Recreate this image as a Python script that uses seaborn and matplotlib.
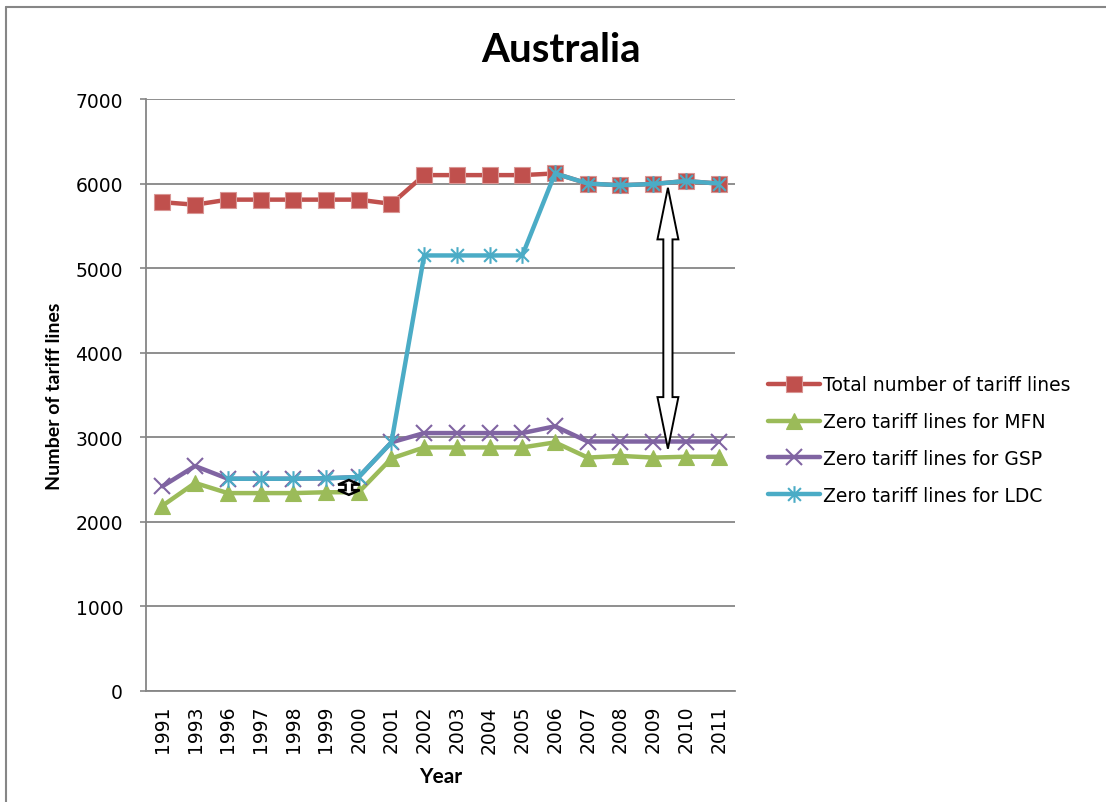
import numpy as np
import pandas as pd
import matplotlib
matplotlib.use("Agg")
import matplotlib.pyplot as plt
import seaborn as sns
from matplotlib.path import Path
from matplotlib.patches import Polygon
from matplotlib.lines import Line2D

years = ["1991", "1993", "1996", "1997", "1998", "1999", "2000", "2001", "2002",
         "2003", "2004", "2005", "2006", "2007", "2008", "2009", "2010", "2011"]
total = [5780, 5750, 5810, 5810, 5810, 5810, 5810, 5760, 6100,
         6100, 6100, 6100, 6120, 6000, 5980, 5995, 6030, 6000]
mfn = [2190, 2460, 2340, 2340, 2340, 2350, 2350, 2750, 2880,
       2880, 2880, 2880, 2940, 2760, 2780, 2760, 2770, 2770]
gsp = [2420, 2660, 2510, 2510, 2510, 2515, 2530, 2940, 3050,
       3050, 3050, 3050, 3130, 2950, 2950, 2950, 2950, 2950]
ldc = [np.nan, np.nan, 2510, 2510, 2510, 2515, 2530, 2940, 5150,
       5150, 5150, 5150, 6120, 6000, 5980, 5995, 6030, 6000]

labels = ["Total number of tariff lines", "Zero tariff lines for MFN",
          "Zero tariff lines for GSP", "Zero tariff lines for LDC"]
colors = ["#C0504D", "#9BBB59", "#8064A2", "#4BACC6"]

sns.set_style("white")
plt.rcParams["font.family"] = ["DejaVu Sans"]
plt.rcParams["text.color"] = "black"
plt.rcParams["axes.labelcolor"] = "black"
plt.rcParams["xtick.labelcolor"] = "black"
plt.rcParams["ytick.labelcolor"] = "black"

fig = plt.figure(figsize=(11.06, 8.03), dpi=100)
ax = fig.add_axes([146 / 1106, 1 - 692 / 803, (735 - 146) / 1106, (692 - 100) / 803])

pos = np.arange(len(years))

# asterisk marker (x plus vertical bar)
ast = Path([(-1, -1), (1, 1), (-1, 1), (1, -1), (0, -1.3), (0, 1.3)],
           [Path.MOVETO, Path.LINETO, Path.MOVETO, Path.LINETO, Path.MOVETO, Path.LINETO])

series = [total, mfn, gsp, ldc]
marker_kw = [
    dict(marker="s", markersize=11, markerfacecolor=colors[0], markeredgecolor="#D99694", markeredgewidth=0.8),
    dict(marker="^", markersize=12, markerfacecolor=colors[1], markeredgecolor=colors[1], markeredgewidth=0.8),
    dict(marker="x", markersize=11, markeredgecolor=colors[2], markeredgewidth=1.5),
    dict(marker=ast, markersize=12, markeredgecolor=colors[3], markeredgewidth=1.5),
]
for vals, lab, col, mk in zip(series, labels, colors, marker_kw):
    df = pd.DataFrame({"x": pos, "y": vals}).dropna()
    sns.lineplot(data=df, x="x", y="y", ax=ax, color=col, linewidth=3.2,
                 label=lab, **mk)


def double_arrow(ax, x, y0, y1, head_w, shaft_w, head_len, lw=1.4):
    pts = [(x, y1), (x + head_w, y1 - head_len), (x + shaft_w, y1 - head_len),
           (x + shaft_w, y0 + head_len), (x + head_w, y0 + head_len), (x, y0),
           (x - head_w, y0 + head_len), (x - shaft_w, y0 + head_len),
           (x - shaft_w, y1 - head_len), (x - head_w, y1 - head_len)]
    ax.add_patch(Polygon(pts, closed=True, facecolor="white", edgecolor="black",
                         linewidth=lw, zorder=5))


double_arrow(ax, 15.45, gsp[15] - 85, total[15] - 45, 0.32, 0.14, 610)
double_arrow(ax, 5.7, mfn[5] - 30, ldc[5] - 20, 0.33, 0.1, 55, lw=1.8)

ax.set_xlim(-0.5, len(years) - 0.5)
ax.set_ylim(0, 7000)
ax.set_yticks(range(0, 7001, 1000))
ax.set_xticks(pos)
ax.set_xticklabels(years, rotation=90, fontsize=13.5)
ax.tick_params(axis="y", labelsize=13.5, length=4.5, width=1.2, color="#868686",
               direction="out", left=True, pad=12)
ax.tick_params(axis="x", length=0, pad=10)
ax.grid(axis="y", color="#868686", linewidth=1.3)
ax.set_axisbelow(True)
for s in ["top", "right"]:
    ax.spines[s].set_visible(False)
for s in ["left", "bottom"]:
    ax.spines[s].set_color("#868686")
    ax.spines[s].set_linewidth(1.3)

ax.set_xlabel("Year", fontsize=15, fontweight="bold", family=["Lato", "DejaVu Sans"], labelpad=10)
ax.set_ylabel("Number of tariff lines", fontsize=14, fontweight="bold",
              family=["Lato", "DejaVu Sans"], labelpad=9)

fig.text(561 / 1106, 1 - 50 / 803, "Australia", ha="center", va="center",
         fontsize=29, fontweight="bold", family=["Lato", "DejaVu Sans"])

ax.legend(loc="center left", bbox_to_anchor=(768 / 1106, 1 - 441 / 803),
          bbox_transform=fig.transFigure, frameon=False, fontsize=13.5,
          handlelength=2.75, handletextpad=0.2, labelspacing=0.95, borderaxespad=0,
          borderpad=0)

fig.add_artist(Line2D([6 / 1106, 6 / 1106], [0, 1 - 8 / 803], transform=fig.transFigure,
                      color="#868686", linewidth=1.5))
fig.add_artist(Line2D([6 / 1106, 1], [1 - 8 / 803, 1 - 8 / 803], transform=fig.transFigure,
                      color="#868686", linewidth=1.5))

fig.savefig("out.png", dpi=100, facecolor="white")
